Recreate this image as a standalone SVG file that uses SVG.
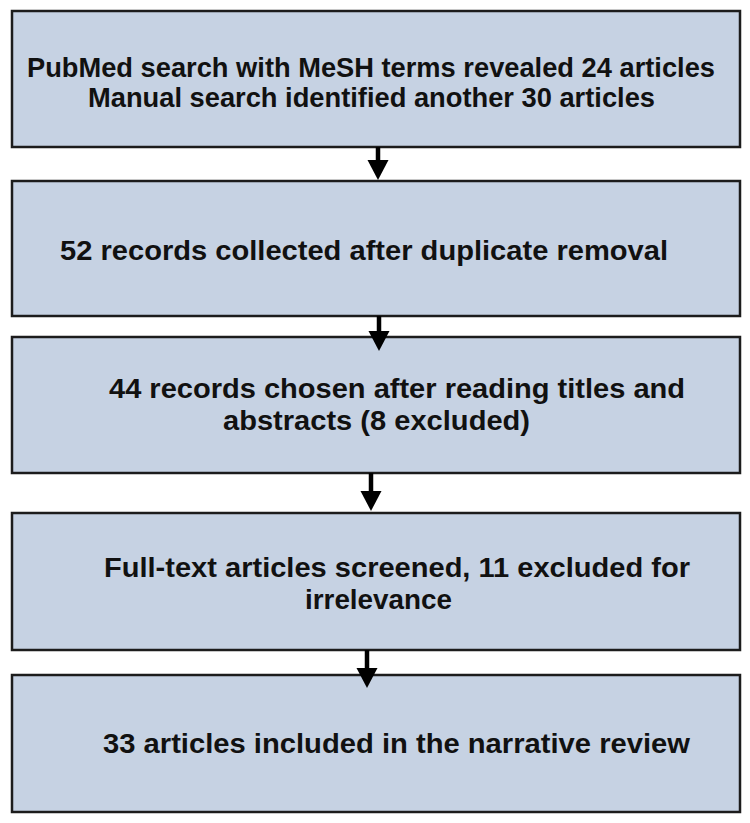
<svg xmlns="http://www.w3.org/2000/svg" width="750" height="823" viewBox="0 0 750 823">
<style>
.box{fill:#c6d2e3;stroke:#1c1c1c;stroke-width:2.5}
.t{font-family:"Liberation Sans",Arial,sans-serif;font-weight:bold;font-size:28px;fill:#111}
.shaft{stroke:#000;stroke-width:4.5}
.head{fill:#000}
</style>
<rect width="750" height="823" fill="#fff"/>
<g id="n1">
<rect class="box" x="12" y="11" width="728" height="136"/>
<text class="t" x="27" y="77" textLength="688" lengthAdjust="spacingAndGlyphs">PubMed search with MeSH terms revealed 24 articles</text>
<text class="t" x="88" y="107" textLength="567" lengthAdjust="spacingAndGlyphs">Manual search identified another 30 articles</text>
</g>
<g id="n2">
<rect class="box" x="12" y="181" width="728" height="135"/>
<text class="t" x="60" y="260" textLength="608" lengthAdjust="spacingAndGlyphs">52 records collected after duplicate removal</text>
</g>
<g id="n3">
<rect class="box" x="12" y="337" width="728" height="136"/>
<text class="t" x="109" y="398" textLength="576" lengthAdjust="spacingAndGlyphs">44 records chosen after reading titles and</text>
<text class="t" x="223" y="430" textLength="307" lengthAdjust="spacingAndGlyphs">abstracts (8 excluded)</text>
</g>
<g id="n4">
<rect class="box" x="12" y="513" width="728" height="137"/>
<text class="t" x="104" y="577" textLength="586" lengthAdjust="spacingAndGlyphs">Full-text articles screened, 11 excluded for</text>
<text class="t" x="305" y="609" textLength="147" lengthAdjust="spacingAndGlyphs">irrelevance</text>
</g>
<g id="n5">
<rect class="box" x="12" y="675" width="728" height="137"/>
<text class="t" x="103" y="753" textLength="587" lengthAdjust="spacingAndGlyphs">33 articles included in the narrative review</text>
</g>
<g id="connectors">
<line class="shaft" x1="378" y1="147" x2="378" y2="162"/>
<polygon class="head" points="367.5,160 388.5,160 378,180"/>
<line class="shaft" x1="379" y1="316" x2="379" y2="333"/>
<polygon class="head" points="368.5,331 389.5,331 379,351"/>
<line class="shaft" x1="371" y1="473" x2="371" y2="493"/>
<polygon class="head" points="360.5,491 381.5,491 371,511"/>
<line class="shaft" x1="367" y1="650" x2="367" y2="670"/>
<polygon class="head" points="356.5,668 377.5,668 367,688"/>
</g>
</svg>
